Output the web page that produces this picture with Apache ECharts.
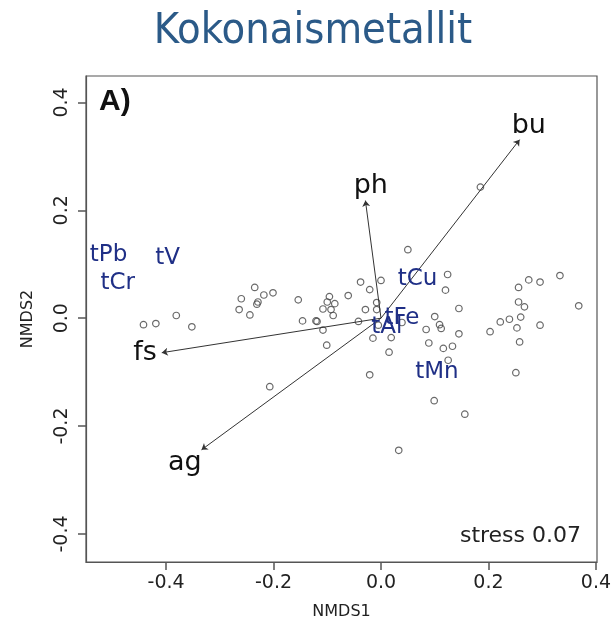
<!DOCTYPE html>
<html>
<head>
<meta charset="utf-8">
<script src="https://cdn.jsdelivr.net/npm/echarts@6/dist/echarts.min.js"></script>
<style>
html,body{margin:0;padding:0;background:#fff;}
#chart{width:614px;height:634px;}
</style>
</head>
<body>
<div id="chart"></div>
<script>
// Site scores (NMDS1, NMDS2)
const siteX = [-0.442,-0.419,-0.381,-0.352,-0.235,-0.260,-0.218,-0.201,-0.229,-0.231,-0.264,-0.244,-0.154,-0.146,-0.119,-0.121,-0.108,-0.101,-0.207,-0.096,-0.100,-0.086,-0.108,-0.093,-0.089,-0.061,-0.038,-0.021,0.000,-0.008,-0.029,-0.008,-0.042,-0.015,0.019,0.015,-0.021,0.050,0.124,0.120,0.145,0.100,0.109,0.112,0.084,0.145,0.089,0.116,0.133,0.125,0.099,0.156,0.033,0.203,0.222,0.239,0.256,0.275,0.296,0.333,0.256,0.267,0.260,0.253,0.296,0.258,0.368,0.251,0.185,0.039,-0.005];
const siteY = [-0.012,-0.010,0.005,-0.016,0.057,0.036,0.043,0.047,0.030,0.026,0.016,0.006,0.034,-0.005,-0.006,-0.005,-0.022,-0.050,-0.127,0.040,0.030,0.027,0.017,0.016,0.005,0.042,0.067,0.053,0.070,0.029,0.016,0.016,-0.006,-0.037,-0.036,-0.063,-0.105,0.127,0.081,0.052,0.018,0.003,-0.012,-0.019,-0.021,-0.029,-0.046,-0.056,-0.052,-0.078,-0.153,-0.178,-0.245,-0.025,-0.007,-0.002,0.057,0.071,0.067,0.079,0.030,0.021,0.002,-0.018,-0.013,-0.044,0.023,-0.101,0.243,-0.008,-0.013];

// Environmental vectors (arrow tips) and their label positions
const vectorNames = ['bu','ph','fs','ag'];
const vectorX = [0.258,-0.029,-0.408,-0.334];
const vectorY = [0.331,0.218,-0.064,-0.244];
const vectorLabelX = [0.275,-0.019,-0.439,-0.365];
const vectorLabelY = [0.356,0.245,-0.064,-0.268];

// Metal (species) scores
const speciesNames = ['tPb','tV','tCr','tCu','tFe','tAl','tMn'];
const speciesX = [-0.507,-0.397,-0.490,0.068,0.039,0.011,0.104];
const speciesY = [0.117,0.112,0.065,0.072,0.000,-0.016,-0.099];

// Axis ticks
const xTicks = [-0.4,-0.2,0.0,0.2,0.4];
const yTicks = [-0.4,-0.2,0.0,0.2,0.4];

const chart = echarts.init(document.getElementById('chart'), null, {renderer:'canvas'});
const FONT = 'DejaVu Sans';

chart.setOption({
  animation:false,
  backgroundColor:'#fff',
  grid:{left:86,right:17,top:76,bottom:72,show:true,borderColor:'#555',borderWidth:1.2,backgroundColor:'transparent',outerBoundsMode:'none'},
  xAxis:{
    type:'value',min:-0.549,max:0.402,position:'bottom',
    name:'NMDS1',nameLocation:'middle',nameGap:42,
    nameTextStyle:{fontFamily:FONT,fontSize:16,color:'#222'},
    axisLine:{show:true,onZero:false,lineStyle:{color:'#555',width:1.2}},
    splitLine:{show:false},
    axisTick:{show:true,inside:false,length:8,customValues:xTicks,lineStyle:{color:'#555',width:1.5}},
    axisLabel:{customValues:xTicks,margin:12,fontFamily:FONT,fontSize:19,color:'#222',formatter:v=>v.toFixed(1)}
  },
  yAxis:{
    type:'value',min:-0.452,max:0.449,position:'left',
    name:'NMDS2',nameLocation:'middle',nameGap:50,
    nameTextStyle:{fontFamily:FONT,fontSize:16,color:'#222'},
    axisLine:{show:true,onZero:false,lineStyle:{color:'#555',width:1.2}},
    splitLine:{show:false},
    axisTick:{show:true,inside:false,length:8,customValues:yTicks,lineStyle:{color:'#555',width:1.5}},
    axisLabel:{customValues:yTicks,rotate:90,margin:14,fontFamily:FONT,fontSize:19,color:'#222',formatter:v=>v.toFixed(1)}
  },
  graphic:[
    {type:'text',x:313,y:32,style:{text:'Kokonaismetallit',fontFamily:"'Liberation Sans Narrow','DejaVu Sans Condensed',sans-serif",fontSize:43,fill:'#2b5a88',textAlign:'center',textVerticalAlign:'middle'}},
    {type:'text',x:99,y:102,style:{text:'A)',fontFamily:'Liberation Sans',fontWeight:'bold',fontSize:30,fill:'#111',textAlign:'left',textVerticalAlign:'middle'}},
    {type:'text',x:581,y:536,style:{text:'stress 0.07',fontFamily:FONT,fontSize:22,fill:'#222',textAlign:'right',textVerticalAlign:'middle'}}
  ],
  series:[
    {
      type:'scatter',
      data:siteX.map((x,i)=>[x,siteY[i]]),
      symbol:'circle',symbolSize:6.5,
      itemStyle:{color:'rgba(0,0,0,0)',borderColor:'#444',borderWidth:1.2},
      z:2,silent:true
    },
    {
      type:'lines',coordinateSystem:'cartesian2d',
      data:vectorNames.map((n,i)=>({coords:[[0,0],[vectorX[i],vectorY[i]]]})),
      symbol:['none','arrow'],symbolSize:6,
      lineStyle:{color:'#333',width:1,opacity:1},
      z:3,silent:true
    },
    {
      type:'scatter',
      data:vectorNames.map((n,i)=>({name:n,value:[vectorLabelX[i],vectorLabelY[i]]})),
      symbolSize:1,itemStyle:{color:'rgba(0,0,0,0)'},
      label:{show:true,position:'inside',formatter:'{b}',fontFamily:FONT,fontSize:27,color:'#111',textBorderWidth:0,opacity:1},
      z:4,silent:true
    },
    {
      type:'scatter',
      data:speciesNames.map((n,i)=>({name:n,value:[speciesX[i],speciesY[i]]})),
      symbolSize:1,itemStyle:{color:'rgba(0,0,0,0)'},
      label:{show:true,position:'inside',formatter:'{b}',fontFamily:FONT,fontSize:23,color:'#1f2f86',textBorderWidth:0,opacity:1},
      z:5,silent:true
    }
  ]
});
</script>
</body>
</html>
